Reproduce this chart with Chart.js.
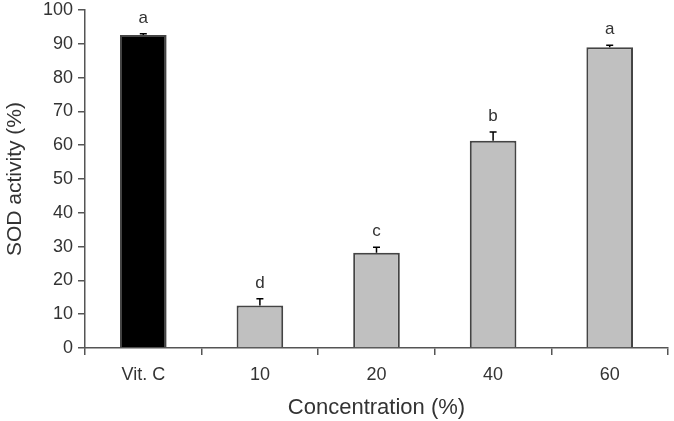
<!DOCTYPE html>
<html>
<head>
<meta charset="utf-8">
<script src="https://cdn.jsdelivr.net/npm/chart.js@4.4.1/dist/chart.umd.min.js"></script>
<style>
  html, body { margin: 0; padding: 0; background: #fff; }
  canvas { display: block; }
</style>
</head>
<body>
<canvas id="chart" width="674" height="421"></canvas>
<script>
const categories = ['Vit. C', '10', '20', '40', '60'];
const sodActivity = [92.6, 12.6, 28.2, 61.3, 89.0];
const errors = [0.4, 2.0, 1.6, 2.6, 0.6];
const letters = ['a', 'd', 'c', 'b', 'a'];
const barColors = ['#000000', '#c0c0c0', '#c0c0c0', '#c0c0c0', '#c0c0c0'];

const AXIS_COLOR = '#555';
const TEXT_COLOR = '#333';
const FONT = 'Liberation Sans, Arial, sans-serif';

// error bars + significance letters
const annotations = {
  id: 'annotations',
  afterDatasetsDraw(chart) {
    const { ctx, scales: { y } } = chart;
    const meta = chart.getDatasetMeta(0);
    ctx.save();
    meta.data.forEach((bar, i) => {
      const top = y.getPixelForValue(sodActivity[i]);
      const capY = y.getPixelForValue(sodActivity[i] + errors[i]);
      ctx.strokeStyle = '#000';
      ctx.lineWidth = 1.5;
      ctx.beginPath();
      ctx.moveTo(bar.x, top);
      ctx.lineTo(bar.x, capY);
      ctx.moveTo(bar.x - 3.5, capY);
      ctx.lineTo(bar.x + 3.5, capY);
      ctx.stroke();

      ctx.fillStyle = TEXT_COLOR;
      ctx.font = '17px ' + FONT;
      ctx.textAlign = 'center';
      ctx.textBaseline = 'alphabetic';
      ctx.fillText(letters[i], bar.x, capY - 11);
    });
    ctx.restore();
  }
};

new Chart(document.getElementById('chart'), {
  type: 'bar',
  data: {
    labels: categories,
    datasets: [{
      data: sodActivity,
      backgroundColor: barColors,
      borderColor: '#444',
      borderWidth: 2,
      borderSkipped: 'bottom',
      barPercentage: 0.40,
      categoryPercentage: 1.0,
    }],
  },
  options: {
    responsive: false,
    animation: false,
    layout: { padding: { top: 0, right: 6, left: 0, bottom: 0 } },
    plugins: { legend: { display: false }, tooltip: { enabled: false } },
    scales: {
      x: {
        grid: {
          offset: true,
          drawOnChartArea: false,
          tickLength: 7,
          color: AXIS_COLOR,
          lineWidth: 1.5,
        },
        border: { color: AXIS_COLOR, width: 1.5 },
        ticks: { color: TEXT_COLOR, font: { size: 18, family: FONT }, padding: 9 },
        title: {
          display: true,
          text: 'Concentration (%)',
          color: TEXT_COLOR,
          font: { size: 22, family: FONT },
          padding: { top: 0, bottom: 0 },
        },
        afterFit: (scale) => { scale.height = 73; },
      },
      y: {
        min: 0,
        max: 100,
        ticks: { stepSize: 10, color: TEXT_COLOR, font: { size: 18, family: FONT }, padding: 5 },
        grid: {
          drawOnChartArea: false,
          tickLength: 7,
          color: AXIS_COLOR,
          lineWidth: 1.5,
        },
        border: { color: AXIS_COLOR, width: 1.5 },
        title: {
          display: true,
          text: 'SOD activity (%)',
          color: TEXT_COLOR,
          font: { size: 21, family: FONT },
          padding: { top: 3, bottom: 0 },
        },
        afterFit: (scale) => { scale.width = 85; scale.paddingTop = 10; },
      },
    },
  },
  plugins: [annotations],
});
</script>
</body>
</html>
